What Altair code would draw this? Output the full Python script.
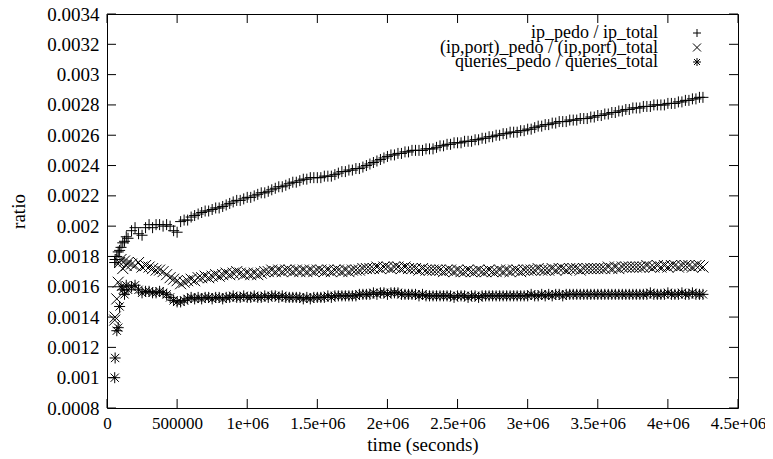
import altair as alt
import pandas as pd

# ---------------- data ----------------
times_early = [55000, 58000, 70000, 80000, 90000, 100000, 112500, 125000, 137500]
times_regular = list(range(150000, 4250001, 25000))
times = times_early + times_regular

ip_ratio = [
    0.00176, 0.00178, 0.00180, 0.00183, 0.00184, 0.00186, 0.00189, 0.00190, 0.00193,
    0.00192, 0.00197, 0.00199, 0.00195, 0.00194, 0.00199, 0.00201, 0.00199,
    0.00201, 0.00201, 0.00200, 0.00201, 0.00200, 0.00197, 0.00196, 0.00203,
    0.00204, 0.00204, 0.00206, 0.00207, 0.00208, 0.00209, 0.00210, 0.00210,
    0.00211, 0.00212, 0.00212, 0.00213, 0.00214, 0.00215, 0.00216, 0.00217,
    0.00217, 0.00218, 0.00219, 0.00219, 0.00220, 0.00221, 0.00222, 0.00222,
    0.00223, 0.00224, 0.00225, 0.00226, 0.00226, 0.00227, 0.00228, 0.00229,
    0.00229, 0.00230, 0.00231, 0.00231, 0.00232, 0.00232, 0.00232, 0.00232,
    0.00233, 0.00233, 0.00233, 0.00234, 0.00235, 0.00236, 0.00236, 0.00237,
    0.00237, 0.00238, 0.00238, 0.00239, 0.00240, 0.00241, 0.00242, 0.00243,
    0.00244, 0.00245, 0.00246, 0.00247, 0.00247, 0.00248, 0.00248, 0.00249,
    0.00249, 0.00250, 0.00250, 0.00250, 0.00250, 0.00251, 0.00251, 0.00251,
    0.00252, 0.00253, 0.00253, 0.00254, 0.00254, 0.00255, 0.00255, 0.00255,
    0.00256, 0.00256, 0.00256, 0.00257, 0.00257, 0.00258, 0.00258, 0.00259,
    0.00259, 0.00260, 0.00260, 0.00261, 0.00261, 0.00262, 0.00262, 0.00262,
    0.00263, 0.00263, 0.00264, 0.00264, 0.00265, 0.00266, 0.00266, 0.00267,
    0.00267, 0.00268, 0.00268, 0.00269, 0.00269, 0.00269, 0.00270, 0.00270,
    0.00270, 0.00271, 0.00271, 0.00271, 0.00272, 0.00272, 0.00273, 0.00273,
    0.00274, 0.00274, 0.00275, 0.00275, 0.00276, 0.00276, 0.00277, 0.00277,
    0.00278, 0.00278, 0.00278, 0.00279, 0.00279, 0.00279, 0.00280, 0.00280,
    0.00280, 0.00280, 0.00281, 0.00281, 0.00281, 0.00282, 0.00282, 0.00283,
    0.00283, 0.00284, 0.00284, 0.00285, 0.00285,
]

ipport_ratio = [
    0.00138, 0.00140, 0.00152, 0.00163, 0.00176, 0.00178, 0.00172, 0.00177, 0.00174,
    0.00176, 0.00175, 0.00174, 0.00176, 0.00173, 0.00174, 0.00173, 0.00172,
    0.00171, 0.00171, 0.00170, 0.00168, 0.00166, 0.00165, 0.00164, 0.00162,
    0.00163, 0.00164, 0.00165, 0.00164, 0.00166, 0.00166, 0.00167, 0.00166,
    0.00167, 0.00168, 0.00167, 0.00168, 0.00169, 0.00168, 0.00169, 0.00170,
    0.00169, 0.00168, 0.00169, 0.00168, 0.00169, 0.00168, 0.00169, 0.00170,
    0.00170, 0.00171, 0.00170, 0.00171, 0.00170, 0.00171, 0.00171, 0.00170,
    0.00171, 0.00170, 0.00171, 0.00170, 0.00171, 0.00170, 0.00171, 0.00171,
    0.00170, 0.00171, 0.00170, 0.00171, 0.00171, 0.00170, 0.00171, 0.00170,
    0.00171, 0.00171, 0.00171, 0.00172, 0.00172, 0.00172, 0.00172, 0.00173,
    0.00172, 0.00173, 0.00173, 0.00172, 0.00173, 0.00173, 0.00172, 0.00173,
    0.00172, 0.00172, 0.00172, 0.00171, 0.00172, 0.00171, 0.00171, 0.00171,
    0.00171, 0.00171, 0.00170, 0.00171, 0.00171, 0.00170, 0.00171, 0.00170,
    0.00170, 0.00171, 0.00170, 0.00170, 0.00171, 0.00170, 0.00170, 0.00171,
    0.00170, 0.00170, 0.00171, 0.00170, 0.00171, 0.00170, 0.00171, 0.00171,
    0.00170, 0.00171, 0.00171, 0.00171, 0.00171, 0.00172, 0.00171, 0.00171,
    0.00171, 0.00172, 0.00171, 0.00172, 0.00172, 0.00171, 0.00172, 0.00172,
    0.00172, 0.00171, 0.00172, 0.00172, 0.00172, 0.00172, 0.00172, 0.00172,
    0.00172, 0.00173, 0.00172, 0.00173, 0.00172, 0.00173, 0.00173, 0.00173,
    0.00173, 0.00173, 0.00173, 0.00173, 0.00174, 0.00173, 0.00173, 0.00174,
    0.00173, 0.00174, 0.00173, 0.00174, 0.00174, 0.00173, 0.00174, 0.00174,
    0.00174, 0.00173, 0.00174, 0.00174, 0.00173,
]

queries_ratio = [
    0.00100, 0.00113, 0.00131, 0.00133, 0.00147, 0.00160, 0.00158, 0.00155, 0.00161,
    0.00158, 0.00160, 0.00161, 0.00158, 0.00156, 0.00157, 0.00157, 0.00156,
    0.00156, 0.00157, 0.00156, 0.00155, 0.00153, 0.00151, 0.00150, 0.00150,
    0.00151, 0.00152, 0.00153, 0.00152, 0.00153, 0.00152, 0.00153, 0.00153,
    0.00152, 0.00153, 0.00153, 0.00152, 0.00153, 0.00153, 0.00154, 0.00153,
    0.00153, 0.00154, 0.00153, 0.00153, 0.00154, 0.00153, 0.00153, 0.00154,
    0.00153, 0.00154, 0.00154, 0.00153, 0.00154, 0.00153, 0.00153, 0.00153,
    0.00153, 0.00153, 0.00152, 0.00153, 0.00152, 0.00153, 0.00153, 0.00153,
    0.00153, 0.00154, 0.00153, 0.00154, 0.00154, 0.00154, 0.00154, 0.00154,
    0.00154, 0.00154, 0.00155, 0.00155, 0.00155, 0.00155, 0.00156, 0.00155,
    0.00156, 0.00156, 0.00155, 0.00156, 0.00156, 0.00156, 0.00155, 0.00155,
    0.00155, 0.00155, 0.00155, 0.00154, 0.00155, 0.00154, 0.00154, 0.00154,
    0.00154, 0.00154, 0.00154, 0.00154, 0.00154, 0.00153, 0.00154, 0.00154,
    0.00154, 0.00153, 0.00154, 0.00154, 0.00153, 0.00154, 0.00154, 0.00154,
    0.00154, 0.00154, 0.00154, 0.00154, 0.00154, 0.00154, 0.00154, 0.00154,
    0.00154, 0.00154, 0.00154, 0.00155, 0.00154, 0.00154, 0.00155, 0.00154,
    0.00155, 0.00154, 0.00155, 0.00155, 0.00154, 0.00155, 0.00155, 0.00155,
    0.00155, 0.00155, 0.00155, 0.00155, 0.00155, 0.00155, 0.00155, 0.00155,
    0.00155, 0.00155, 0.00155, 0.00155, 0.00155, 0.00155, 0.00155, 0.00155,
    0.00155, 0.00155, 0.00155, 0.00155, 0.00155, 0.00156, 0.00155, 0.00155,
    0.00155, 0.00155, 0.00156, 0.00155, 0.00155, 0.00155, 0.00156, 0.00155,
    0.00155, 0.00156, 0.00155, 0.00155, 0.00155,
]

series_names = [
    "ip_pedo / ip_total",
    "(ip,port)_pedo / (ip,port)_total",
    "queries_pedo / queries_total",
]

x_tick_values = [0, 500000, 1000000, 1500000, 2000000, 2500000, 3000000, 3500000, 4000000, 4500000]
x_tick_labels = ["0", "500000", "1e+06", "1.5e+06", "2e+06", "2.5e+06", "3e+06", "3.5e+06", "4e+06", "4.5e+06"]
y_tick_values = [0.0008, 0.0010, 0.0012, 0.0014, 0.0016, 0.0018, 0.0020, 0.0022,
                 0.0024, 0.0026, 0.0028, 0.0030, 0.0032, 0.0034]

# ---------------- styling ----------------
W, H = 631, 394
FONT = "Liberation Serif"
FS = 19
TICK = 9
shapes = {
    series_names[0]: "M-1,0L1,0M0,-1L0,1",
    series_names[1]: "M-1,-1L1,1M-1,1L1,-1",
    series_names[2]: "M-1,0L1,0M0,-1L0,1M-0.75,-0.75L0.75,0.75M-0.75,0.75L0.75,-0.75",
}
MSIZE = 121

assert len(times) == len(ip_ratio) == len(ipport_ratio) == len(queries_ratio), (
    len(times), len(ip_ratio), len(ipport_ratio), len(queries_ratio))

x_label_expr = "''"
for v, lab in reversed(list(zip(x_tick_values, x_tick_labels))):
    x_label_expr = f"datum.value == {v} ? '{lab}' : ({x_label_expr})"

x_scale = alt.Scale(domain=[0, 4500000], nice=False, zero=False)
y_scale = alt.Scale(domain=[0.0008, 0.0034], nice=False, zero=False)

x_axis = alt.Axis(values=x_tick_values, labelExpr=x_label_expr, title="time (seconds)",
                  labelPadding=7, titlePadding=4, labelOverlap=False, labelFlush=False,
                  labelFontSize=17)
y_axis = alt.Axis(values=y_tick_values, format="~g", title="ratio", labelPadding=8,
                  titlePadding=19, minExtent=60, maxExtent=60, labelOverlap=False,
                  labelFlush=False)

layers = []
for name, vals in zip(series_names, [ip_ratio, ipport_ratio, queries_ratio]):
    df = pd.DataFrame({"time": times, "ratio": vals})
    layers.append(
        alt.Chart(df).mark_point(shape=shapes[name], filled=False, stroke="black",
                                 strokeWidth=1, size=MSIZE, opacity=1).encode(
            x=alt.X("time:Q", scale=x_scale, axis=x_axis),
            y=alt.Y("ratio:Q", scale=y_scale, axis=y_axis),
        )
    )

# inward tick marks (gnuplot style, mirrored on all four sides)
ydf = pd.DataFrame({"v": y_tick_values})
xdf = pd.DataFrame({"v": x_tick_values})
tick_style = dict(color="black", strokeWidth=1)
layers.append(alt.Chart(ydf).mark_rule(**tick_style).encode(
    y=alt.Y("v:Q", scale=y_scale, axis=y_axis), x=alt.value(0), x2=alt.value(TICK)))
layers.append(alt.Chart(ydf).mark_rule(**tick_style).encode(
    y=alt.Y("v:Q", scale=y_scale, axis=y_axis), x=alt.value(W - TICK), x2=alt.value(W)))
layers.append(alt.Chart(xdf).mark_rule(**tick_style).encode(
    x=alt.X("v:Q", scale=x_scale, axis=x_axis), y=alt.value(H - TICK), y2=alt.value(H)))
layers.append(alt.Chart(xdf).mark_rule(**tick_style).encode(
    x=alt.X("v:Q", scale=x_scale, axis=x_axis), y=alt.value(0), y2=alt.value(TICK)))

# key (text right-aligned, symbol to the right, as gnuplot draws it)
for i, name in enumerate(series_names):
    ypos = 19 + i * 14.5
    ldf = pd.DataFrame({"label": [name]})
    layers.append(alt.Chart(ldf).mark_text(align="right", baseline="middle", font=FONT,
                                           fontSize=18, color="black").encode(
        text="label:N", x=alt.value(551), y=alt.value(ypos)))
    layers.append(alt.Chart(ldf).mark_point(shape=shapes[name], filled=False, stroke="black",
                                            strokeWidth=1, size=64, opacity=1).encode(
        x=alt.value(590), y=alt.value(ypos)))

chart = alt.layer(*layers).properties(
    width=W, height=H,
    autosize=alt.AutoSizeParams(type="none"),
    padding={"left": 99, "top": 6, "right": 27, "bottom": 51},
    background="white",
).configure_view(stroke="black", strokeWidth=1).configure_axis(
    labelFont=FONT, labelFontSize=FS, labelColor="black",
    titleFont=FONT, titleFontSize=FS, titleFontWeight="normal", titleColor="black",
    domain=False, ticks=False, grid=False,
)

chart.save("out.html", embed_options={"renderer": "svg", "actions": False})
